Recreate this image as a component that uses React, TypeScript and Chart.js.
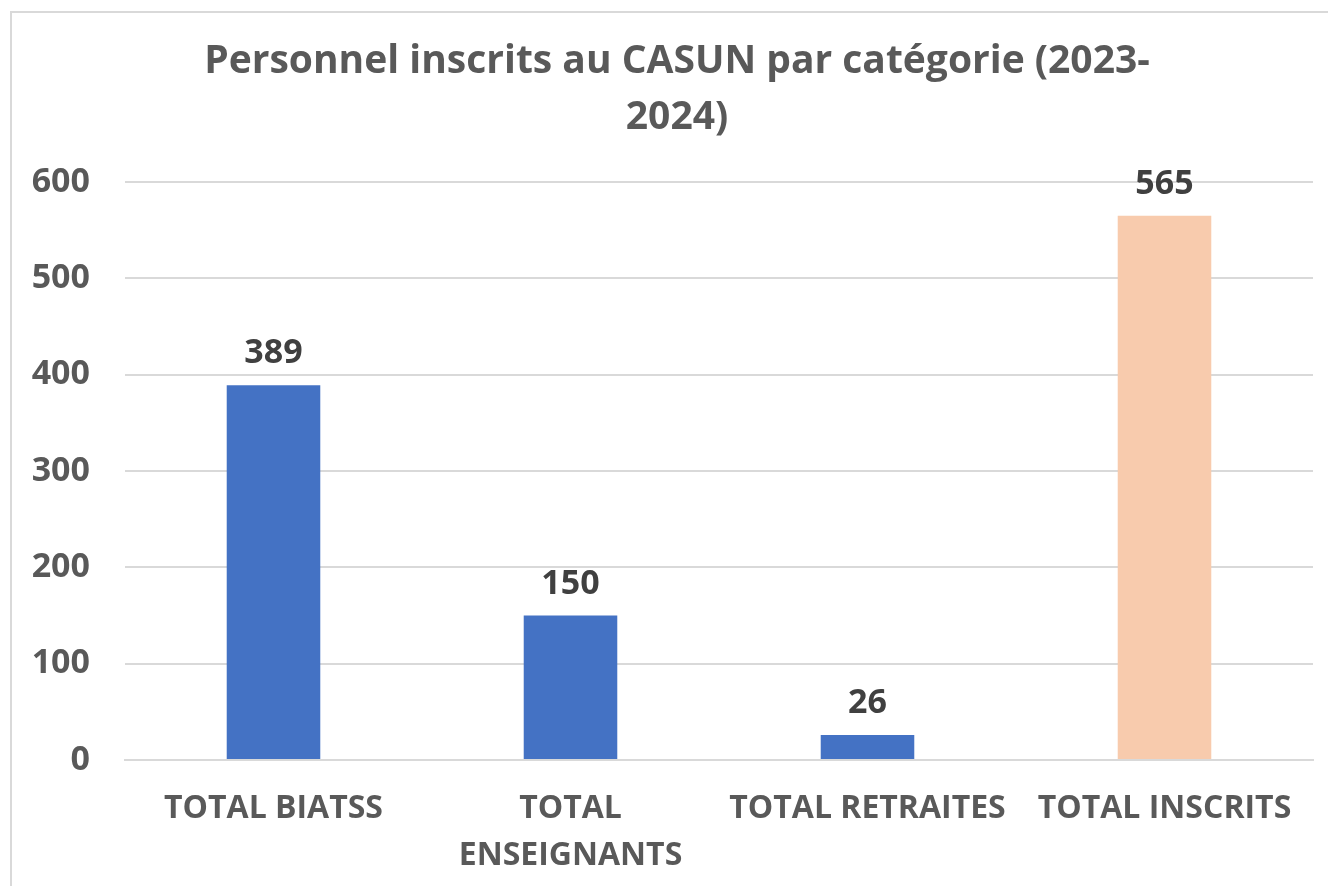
import React, { useEffect, useRef } from "react";
import { Chart, registerables } from "chart.js";

Chart.register(...registerables);

const categories: (string | string[])[] = [
  "TOTAL BIATSS",
  ["TOTAL", "ENSEIGNANTS"],
  "TOTAL RETRAITES",
  "TOTAL INSCRITS",
];
const values: number[] = [389, 150, 26, 565];
const barColors: string[] = ["#4472C4", "#4472C4", "#4472C4", "#F8CBAD"];
const titleLines: string[] = [
  "Personnel inscrits au CASUN par catégorie (2023-",
  "2024)",
];
const yTicks = { min: 0, max: 600, step: 100 };

const FONT = "'Open Sans', 'Noto Sans', sans-serif";

const framePlugin = {
  id: "frame",
  afterLayout(chart: any) {
    // widen the label clip area of the y axis so tick labels are not cut
    chart.scales.y.left = 0;
  },
  beforeDraw(chart: any) {
    const ctx = chart.ctx;
    ctx.save();
    ctx.fillStyle = "#ffffff";
    ctx.fillRect(0, 0, chart.width, chart.height);
    ctx.strokeStyle = "#d9d9d9";
    ctx.lineWidth = 2;
    ctx.beginPath();
    ctx.moveTo(11, chart.height);
    ctx.lineTo(11, 12);
    ctx.lineTo(chart.width, 12);
    ctx.stroke();
    ctx.restore();
  },
};

const labelPlugin = {
  id: "valueLabels",
  afterDatasetsDraw(chart: any) {
    const ctx = chart.ctx;
    const meta = chart.getDatasetMeta(0);
    ctx.save();
    ctx.font = `bold 34px ${FONT}`;
    ctx.fillStyle = "#404040";
    ctx.textAlign = "center";
    ctx.textBaseline = "alphabetic";
    meta.data.forEach((bar: any, i: number) => {
      ctx.fillText(String(values[i]), bar.x, bar.y - 22);
    });
    ctx.restore();
  },
};

export default function App() {
  const ref = useRef<HTMLCanvasElement>(null);
  useEffect(() => {
    document.body.style.margin = "0";
    const chart = new Chart(ref.current!, {
      type: "bar",
      data: {
        labels: categories,
        datasets: [
          {
            data: values,
            backgroundColor: barColors,
            barPercentage: 0.315,
            categoryPercentage: 1,
          },
        ],
      },
      options: {
        animation: false,
        responsive: false,
        layout: { padding: { left: 41, right: 15, top: 0, bottom: 0 } },
        plugins: {
          legend: { display: false },
          tooltip: { enabled: false },
          title: {
            display: true,
            text: titleLines,
            color: "#595959",
            font: { family: FONT, size: 39, weight: "bold", lineHeight: 56 / 39 },
            padding: { top: 34, bottom: 36 },
          },
        },
        scales: {
          x: {
            grid: { display: false, drawTicks: false },
            border: { color: "#d9d9d9", width: 2 },
            afterFit(scale: any) {
              scale.height = 126;
            },
            ticks: {
              color: "#595959",
              font: { family: FONT, size: 32, weight: "bold", lineHeight: 47 / 32 },
              maxRotation: 0,
              autoSkip: false,
              padding: 25,
            },
          },
          y: {
            min: yTicks.min,
            max: yTicks.max,
            grid: { color: "#d9d9d9", lineWidth: 2, drawTicks: false },
            border: { display: false },
            afterFit(scale: any) {
              scale.width = 84;
            },
            ticks: {
              stepSize: yTicks.step,
              color: "#595959",
              font: { family: FONT, size: 34, weight: "bold" },
              padding: 35,
            },
          },
        },
      },
      plugins: [framePlugin, labelPlugin],
    });
    return () => chart.destroy();
  }, []);
  return (
    <canvas
      ref={ref}
      width={1328}
      height={886}
      style={{ display: "block", width: 1328, height: 886 }}
    />
  );
}
